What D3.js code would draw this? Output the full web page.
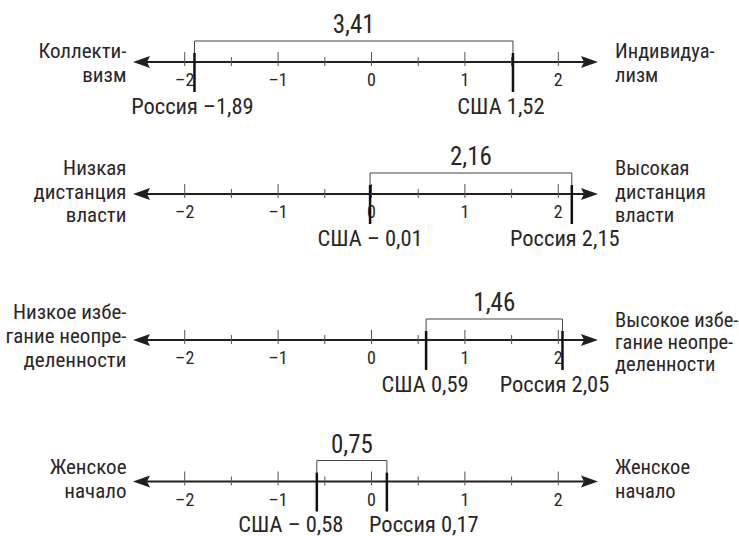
<!DOCTYPE html>
<html>
<head>
<meta charset="utf-8">
<script src="https://cdn.jsdelivr.net/npm/d3@7"></script>
<style>
  html, body { margin: 0; padding: 0; background: #fff; }
  svg { display: block; }
  text { font-family: "Liberation Sans Narrow", "Roboto Condensed", "Arial Narrow", sans-serif; font-weight: 400; fill: #2a2627; }
</style>
</head>
<body>
<svg id="chart" width="739" height="536"></svg>
<script>
// ---------- DATA ----------
const leftLabels = [
  ["Коллекти-", "визм"],
  ["Низкая", "дистанция", "власти"],
  ["Низкое избе-", "гание неопре-", "деленности"],
  ["Женское", "начало"]
];
const rightLabels = [
  ["Индивидуа-", "лизм"],
  ["Высокая", "дистанция", "власти"],
  ["Высокое избе-", "гание неопре-", "деленности"],
  ["Женское", "начало"]
];
const russiaValues = [-1.89, 2.15, 2.05, 0.17];
const usaValues = [1.52, -0.01, 0.59, -0.58];
const russiaLabels = ["Россия –1,89", "Россия 2,15", "Россия 2,05", "Россия 0,17"];
const usaLabels = ["США 1,52", "США – 0,01", "США 0,59", "США – 0,58"];
const gapLabels = ["3,41", "2,16", "1,46", "0,75"];
const majorTicks = [-2, -1, 0, 1, 2];
const majorTickLabels = ["–2", "–1", "0", "1", "2"];
const minorTicks = [-1.5, -0.5, 0.5, 1.5];

// ---------- LAYOUT ----------
const axisY = [62, 194, 340, 481.5];
const leftBaselines = [[58, 81.5], [175, 198.5, 222], [319, 343, 367], [474, 497.5]];
const rightBaselines = [[58, 81.5], [175, 198.5, 222], [326.5, 348.5, 370.5], [474, 497.5]];
const usaLabelShift = [-12, 0, -1, -26];
const russiaLabelShift = [-2, -7, -8, 37];
const markerLabelOffset = [52, 52, 52, 50];

const svg = d3.select("#chart");
const x = d3.scaleLinear().domain([-2, 2]).range([184.2, 557.8]);
const axisStart = 133, axisEnd = 598;
const ink = "#231f20";

axisY.forEach((ay, i) => {
  const g = svg.append("g");

  // main axis line
  g.append("line")
    .attr("x1", axisStart + 10).attr("x2", axisEnd - 10)
    .attr("y1", ay).attr("y2", ay)
    .attr("stroke", ink).attr("stroke-width", 2);
  // arrowheads
  g.append("path")
    .attr("d", `M${axisStart},${ay} L${axisStart + 17},${ay - 6} L${axisStart + 14},${ay} L${axisStart + 17},${ay + 6} Z`)
    .attr("fill", ink);
  g.append("path")
    .attr("d", `M${axisEnd},${ay} L${axisEnd - 17},${ay - 6} L${axisEnd - 14},${ay} L${axisEnd - 17},${ay + 6} Z`)
    .attr("fill", ink);

  // major ticks + labels
  const major = g.append("g")
    .attr("transform", `translate(0,${ay})`)
    .call(d3.axisBottom(x).tickValues(majorTicks).tickSize(4)
      .tickFormat((d, j) => majorTickLabels[j]));
  major.select(".domain").remove();
  major.selectAll(".tick line").attr("y1", -10).attr("y2", 4)
    .attr("stroke", "#555").attr("stroke-width", 1);
  major.selectAll(".tick text")
    .attr("y", 24).attr("dy", null)
    .attr("font-size", 18)
    .style("font-family", '"Liberation Sans Narrow", "Roboto Condensed", sans-serif')
    .style("font-weight", 400)
    .attr("fill", "#2a2627");

  // minor ticks
  const minor = g.append("g")
    .attr("transform", `translate(0,${ay})`)
    .call(d3.axisBottom(x).tickValues(minorTicks).tickSize(4).tickFormat(""));
  minor.select(".domain").remove();
  minor.selectAll(".tick line").attr("y1", -5).attr("y2", 4)
    .attr("stroke", "#555").attr("stroke-width", 1);

  // bracket
  const xa = x(Math.min(usaValues[i], russiaValues[i]));
  const xb = x(Math.max(usaValues[i], russiaValues[i]));
  g.append("path")
    .attr("d", `M${xa},${ay - 9} V${ay - 21} H${xb} V${ay - 9}`)
    .attr("fill", "none").attr("stroke", "#444").attr("stroke-width", 1);
  g.append("text")
    .attr("x", (xa + xb) / 2).attr("y", ay - 29)
    .attr("text-anchor", "middle").attr("font-size", 25)
    .text(gapLabels[i]);

  // markers
  [[usaValues[i], usaLabels[i], usaLabelShift[i]], [russiaValues[i], russiaLabels[i], russiaLabelShift[i]]]
    .forEach(([v, lab, sh]) => {
      g.append("line")
        .attr("x1", x(v)).attr("x2", x(v))
        .attr("y1", ay - 9).attr("y2", ay + 30)
        .attr("stroke", "#111").attr("stroke-width", 2.5);
      g.append("text")
        .attr("x", x(v) + sh).attr("y", ay + markerLabelOffset[i])
        .attr("text-anchor", "middle").attr("font-size", 22.5)
        .text(lab);
    });

  // side labels
  const lt = g.append("text").attr("text-anchor", "end").attr("font-size", 21);
  leftLabels[i].forEach((line, k) => {
    lt.append("tspan").attr("x", 126.5).attr("y", leftBaselines[i][k]).text(line);
  });
  const rt = g.append("text").attr("text-anchor", "start").attr("font-size", 20.5);
  rightLabels[i].forEach((line, k) => {
    rt.append("tspan").attr("x", 615).attr("y", rightBaselines[i][k]).text(line);
  });
});
</script>
</body>
</html>
